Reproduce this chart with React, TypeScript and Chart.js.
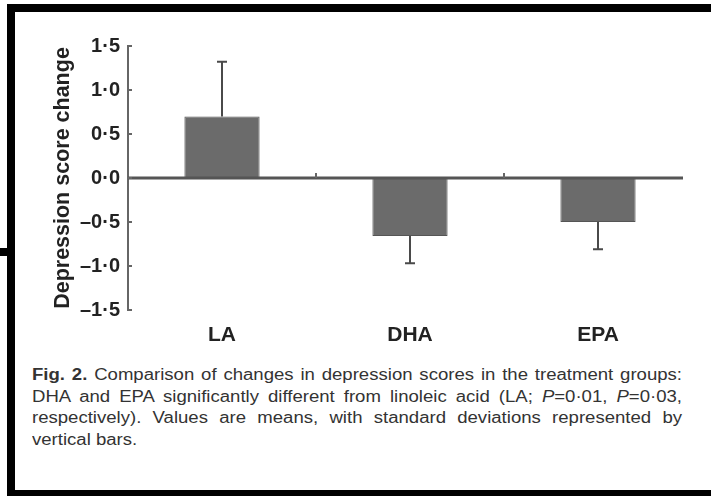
import React, { useEffect, useRef } from 'react';
import { Chart, registerables } from 'chart.js';

Chart.register(...registerables);

const categories = ['LA', 'DHA', 'EPA'];
const meanChange = [0.7, -0.66, -0.5];
const sdChange = [0.62, 0.31, 0.31];
const yTickValues = [-1.5, -1, -0.5, 0, 0.5, 1, 1.5];
const yTitle = 'Depression score change';

const fmt = (v: number) =>
  (v < 0 ? '\u2013' : '') + Math.abs(v).toFixed(1).replace('.', '\u00b7');

const fontFamily = '"Liberation Sans", Arial, Helvetica, sans-serif';

const decorations = {
  id: 'decorations',
  afterDatasetsDraw(chart: any) {
    const ctx = chart.ctx;
    const y = chart.scales.y;
    const x = chart.scales.x;
    const area = chart.chartArea;
    const meta = chart.getDatasetMeta(0);
    ctx.save();
    const zero = y.getPixelForValue(0);
    ctx.strokeStyle = '#555555';
    ctx.lineWidth = 3;
    ctx.beginPath();
    ctx.moveTo(area.left, zero);
    ctx.lineTo(area.right - 9, zero);
    ctx.stroke();
    ctx.strokeStyle = '#4a4a4a';
    ctx.lineWidth = 2;
    meta.data.forEach((bar: any, i: number) => {
      const m = meanChange[i];
      const end = m + Math.sign(m) * sdChange[i];
      const y0 = y.getPixelForValue(m);
      const y1 = y.getPixelForValue(end);
      ctx.beginPath();
      ctx.moveTo(bar.x, y0);
      ctx.lineTo(bar.x, y1);
      ctx.moveTo(bar.x - 5, y1);
      ctx.lineTo(bar.x + 5, y1);
      ctx.stroke();
    });
    ctx.strokeStyle = '#666666';
    ctx.lineWidth = 2;
    ctx.beginPath();
    yTickValues.forEach((v) => {
      const py = y.getPixelForValue(v);
      ctx.moveTo(area.left, py);
      ctx.lineTo(area.left + 4, py);
    });
    for (let i = 0; i < categories.length - 1; i++) {
      const px = (x.getPixelForValue(i) + x.getPixelForValue(i + 1)) / 2;
      ctx.moveTo(px, zero);
      ctx.lineTo(px, zero - 5);
    }
    ctx.stroke();
    ctx.restore();
  },
};

function ChartCanvas() {
  const ref = useRef<HTMLCanvasElement | null>(null);
  useEffect(() => {
    if (!ref.current) return;
    const chart = new Chart(ref.current, {
      type: 'bar',
      data: {
        labels: categories,
        datasets: [
          {
            data: meanChange,
            backgroundColor: '#6b6b6b',
            borderColor: '#555555',
            borderWidth: 1,
            barPercentage: 0.4,
            categoryPercentage: 1,
          },
        ],
      },
      options: {
        animation: false,
        responsive: false,
        devicePixelRatio: 1,
        layout: { padding: { left: 50, top: 46, right: 19, bottom: 0 } },
        plugins: { legend: { display: false }, tooltip: { enabled: false } },
        scales: {
          x: {
            grid: { display: false, drawTicks: false },
            border: { display: false },
            ticks: {
              color: '#222222',
              font: { family: fontFamily, size: 21, weight: 'bold' },
              padding: 13,
              maxRotation: 0,
            },
            afterFit: (s: any) => {
              s.height = 50;
            },
          },
          y: {
            min: -1.5,
            max: 1.5,
            grid: { display: false, drawTicks: false },
            border: { display: true, color: '#666666', width: 2 },
            ticks: {
              stepSize: 0.5,
              color: '#222222',
              padding: 8,
              font: { family: fontFamily, size: 20, weight: 'bold' },
              callback: (v: any) => fmt(Number(v)),
            },
            title: {
              display: true,
              text: yTitle,
              color: '#222222',
              padding: { top: 0, bottom: 0 },
              font: { family: fontFamily, size: 21.5, weight: 'bold' },
            },
            afterFit: (s: any) => {
              s.width = 78;
            },
          },
        },
      },
      plugins: [decorations],
    });
    return () => chart.destroy();
  }, []);
  return (
    <canvas
      ref={ref}
      width={711}
      height={360}
      style={{ position: 'absolute', left: 0, top: 0, width: 711, height: 360, display: 'block' }}
    />
  );
}

const captionLines = [
  [<b key="b">Fig. 2.</b>, ' Comparison of changes in depression scores in the treatment groups:'],
  [
    'DHA and EPA significantly different from linoleic acid (LA; ',
    <i key="p1">P</i>,
    '=0\u00b701, ',
    <i key="p2">P</i>,
    '=0\u00b703,',
  ],
  ['respectively). Values are means, with standard deviations represented by'],
  ['vertical bars.'],
];

const captionScale = 1.16;

export default function App() {
  const band = (l: number, t: number, w: number, h: number): React.CSSProperties => ({
    position: 'absolute',
    left: l,
    top: t,
    width: w,
    height: h,
    background: '#000',
  });
  return (
    <div
      style={{
        position: 'fixed',
        left: 0,
        top: 0,
        width: 711,
        height: 496,
        background: '#fff',
        overflow: 'hidden',
      }}
    >
      <ChartCanvas />
      <div
        style={{
          position: 'absolute',
          left: 32,
          top: 364,
          width: 650 / captionScale,
          fontFamily,
          fontSize: 16,
          lineHeight: '21.5px',
          color: '#333',
          transform: `scaleX(${captionScale})`,
          transformOrigin: 'left top',
        }}
      >
        {captionLines.map((parts, i) => (
          <div
            key={i}
            style={{
              textAlign: i < 3 ? 'justify' : 'left',
              textAlignLast: i < 3 ? 'justify' : 'left',
              whiteSpace: 'nowrap',
            }}
          >
            {parts}
          </div>
        ))}
      </div>
      <div style={band(7, 4, 704, 8)} />
      <div style={band(7, 4, 8, 492)} />
      <div style={band(7, 490, 704, 6)} />
      <div style={band(0, 248, 15, 8)} />
    </div>
  );
}
